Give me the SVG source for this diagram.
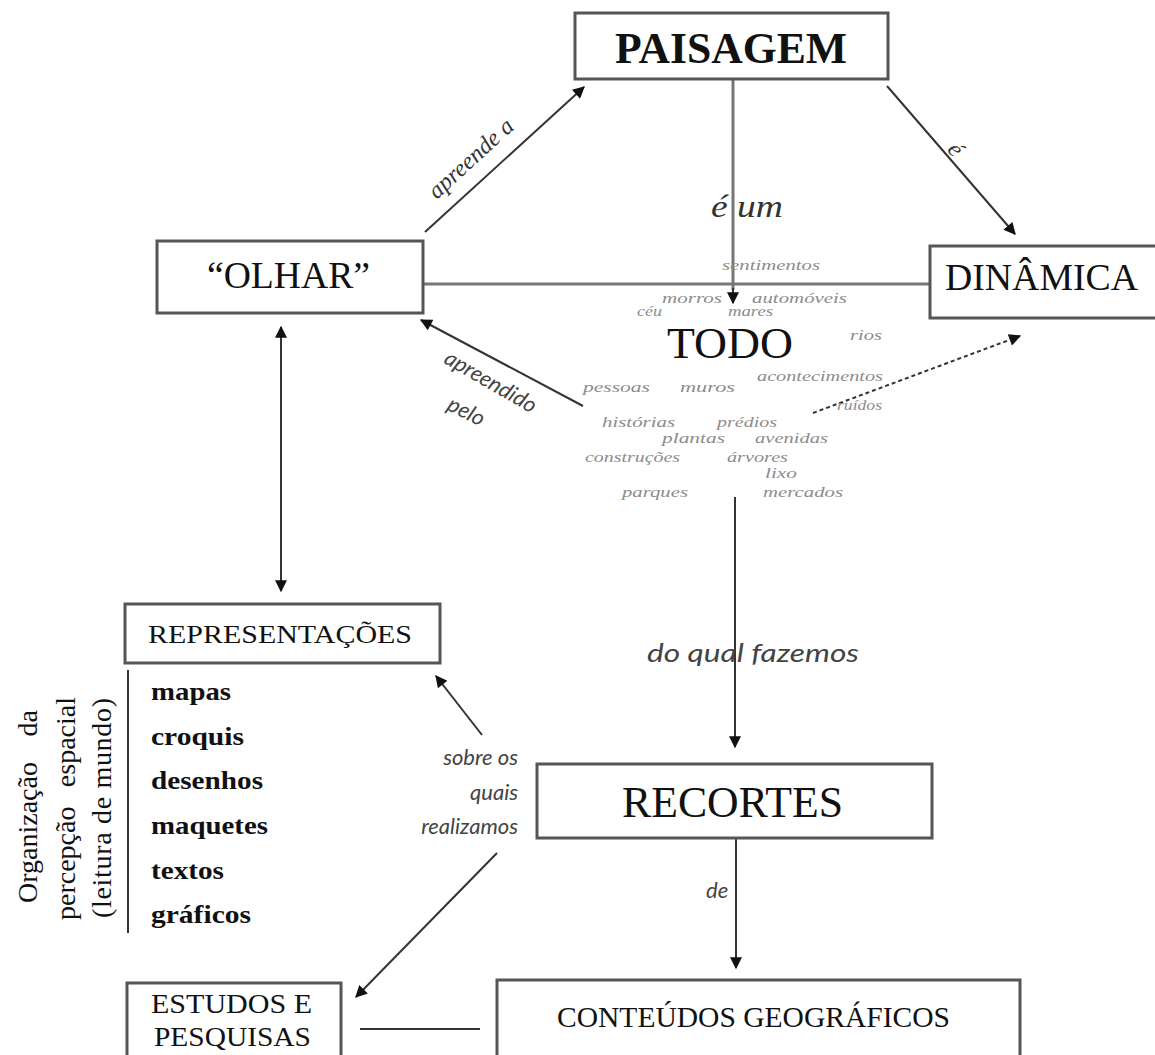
<svg xmlns="http://www.w3.org/2000/svg" width="1155" height="1055" viewBox="0 0 1155 1055">
<style>
.box{fill:#fff;stroke:#555;stroke-width:3}
.t{font-family:"Liberation Serif","Times New Roman",serif;fill:#111}
.tb{font-family:"Liberation Serif","Times New Roman",serif;font-weight:bold;fill:#111}
.lbl{font-family:"Liberation Serif","Times New Roman",serif;font-style:italic;fill:#333}
.sl{font-family:Lato,"Open Sans",sans-serif;font-style:italic;fill:#444}
.w{font-family:"Liberation Serif","Times New Roman",serif;font-style:italic;font-size:15px;fill:#8c8c8c}
.c{fill:none;stroke:#333;stroke-width:2}
.cg{fill:none;stroke:#777;stroke-width:3}
.ar{marker-end:url(#ah)}
</style>
<defs>
<marker id="ah" viewBox="0 0 10 10" refX="9" refY="5" markerWidth="15" markerHeight="12" markerUnits="userSpaceOnUse" orient="auto-start-reverse">
<path d="M0,0 L10,5 L0,10 z" fill="#111"/>
</marker>
</defs>
<rect width="1155" height="1055" fill="#fff"/>

<g id="connectors">
<line class="c ar" x1="425" y1="232" x2="584" y2="87"/>
<line class="c ar" x1="887" y1="86" x2="1015" y2="234"/>
<line class="cg" x1="733" y1="79" x2="733" y2="290"/>
<line class="c ar" x1="733" y1="288" x2="733" y2="303"/>
<line class="cg" x1="424" y1="284" x2="930" y2="284"/>
<line class="c ar" x1="583" y1="406" x2="421" y2="320"/>
<line class="c ar" x1="813" y1="413" x2="1020" y2="336" stroke-dasharray="4 3"/>
<line class="c ar" x1="281" y1="327" x2="281" y2="591" marker-start="url(#ah)"/>
<line class="c ar" x1="735" y1="497" x2="735" y2="747"/>
<line class="c ar" x1="736" y1="838" x2="736" y2="968"/>
<line class="c ar" x1="482" y1="735" x2="436" y2="676"/>
<line class="c ar" x1="497" y1="853" x2="356" y2="997"/>
<line class="c" x1="360" y1="1029" x2="480" y2="1029"/>
<line class="c" x1="128" y1="670" x2="128" y2="933" stroke="#555"/>
</g>

<g id="labels">
<text class="lbl" font-size="24" transform="translate(476,164) rotate(-42.5)" text-anchor="middle">apreende a</text>
<text class="lbl" font-size="32" x="711" y="217" textLength="72" lengthAdjust="spacingAndGlyphs">é um</text>
<text class="lbl" font-size="24" transform="translate(950,154) rotate(50)" text-anchor="middle">é</text>
<text class="sl" font-size="22" fill="#555" transform="translate(487,388) rotate(30)" text-anchor="middle">apreendido</text>
<text class="sl" font-size="22" fill="#555" transform="translate(463,418) rotate(27)" text-anchor="middle">pelo</text>
<text class="sl" font-size="25" x="647" y="662" textLength="212" lengthAdjust="spacingAndGlyphs">do qual fazemos</text>
<text class="sl" font-size="22" x="518" y="765" text-anchor="end">sobre os</text>
<text class="sl" font-size="22" x="518" y="800" text-anchor="end">quais</text>
<text class="sl" font-size="22" x="518" y="834" text-anchor="end">realizamos</text>
<text class="sl" font-size="22" x="706" y="898">de</text>
</g>

<g id="node-paisagem">
<rect class="box" x="575" y="13" width="313" height="66"/>
<text class="tb" font-size="44" x="615" y="63" textLength="232" lengthAdjust="spacingAndGlyphs">PAISAGEM</text>
</g>

<g id="node-olhar">
<rect class="box" x="157" y="241" width="266" height="72"/>
<text class="t" font-size="38" x="207" y="288" textLength="163" lengthAdjust="spacingAndGlyphs">“OLHAR”</text>
</g>

<g id="node-dinamica">
<rect class="box" x="930" y="246" width="230" height="72"/>
<text class="t" font-size="38" x="945" y="290" textLength="193" lengthAdjust="spacingAndGlyphs">DINÂMICA</text>
</g>

<g id="node-todo">
<text class="w" x="722" y="270" textLength="98" lengthAdjust="spacingAndGlyphs">sentimentos</text>
<text class="w" x="662" y="303" textLength="60" lengthAdjust="spacingAndGlyphs">morros</text>
<text class="w" x="752" y="303" textLength="95" lengthAdjust="spacingAndGlyphs">automóveis</text>
<text class="w" x="637" y="316" textLength="25" lengthAdjust="spacingAndGlyphs">céu</text>
<text class="w" x="728" y="316" textLength="45" lengthAdjust="spacingAndGlyphs">mares</text>
<text class="w" x="850" y="340" textLength="32" lengthAdjust="spacingAndGlyphs">rios</text>
<text class="t" font-size="45" x="667" y="358" textLength="126" lengthAdjust="spacingAndGlyphs" fill="#222">TODO</text>
<text class="w" x="757" y="381" textLength="126" lengthAdjust="spacingAndGlyphs">acontecimentos</text>
<text class="w" x="583" y="392" textLength="67" lengthAdjust="spacingAndGlyphs">pessoas</text>
<text class="w" x="680" y="392" textLength="55" lengthAdjust="spacingAndGlyphs">muros</text>
<text class="w" x="837" y="410" textLength="45" lengthAdjust="spacingAndGlyphs">ruídos</text>
<text class="w" x="602" y="427" textLength="73" lengthAdjust="spacingAndGlyphs">histórias</text>
<text class="w" x="717" y="427" textLength="60" lengthAdjust="spacingAndGlyphs">prédios</text>
<text class="w" x="662" y="443" textLength="63" lengthAdjust="spacingAndGlyphs">plantas</text>
<text class="w" x="755" y="443" textLength="73" lengthAdjust="spacingAndGlyphs">avenidas</text>
<text class="w" x="585" y="462" textLength="95" lengthAdjust="spacingAndGlyphs">construções</text>
<text class="w" x="727" y="462" textLength="61" lengthAdjust="spacingAndGlyphs">árvores</text>
<text class="w" x="765" y="478" textLength="32" lengthAdjust="spacingAndGlyphs">lixo</text>
<text class="w" x="622" y="497" textLength="66" lengthAdjust="spacingAndGlyphs">parques</text>
<text class="w" x="763" y="497" textLength="80" lengthAdjust="spacingAndGlyphs">mercados</text>
</g>

<g id="node-representacoes">
<rect class="box" x="125" y="604" width="315" height="59"/>
<text class="t" font-size="26" x="148" y="643" textLength="264" lengthAdjust="spacingAndGlyphs">REPRESENTAÇÕES</text>
<text class="tb" font-size="26" x="151" y="700" textLength="80" lengthAdjust="spacingAndGlyphs">mapas</text>
<text class="tb" font-size="26" x="151" y="745" textLength="93" lengthAdjust="spacingAndGlyphs">croquis</text>
<text class="tb" font-size="26" x="151" y="789" textLength="112" lengthAdjust="spacingAndGlyphs">desenhos</text>
<text class="tb" font-size="26" x="151" y="834" textLength="117" lengthAdjust="spacingAndGlyphs">maquetes</text>
<text class="tb" font-size="26" x="151" y="879" textLength="73" lengthAdjust="spacingAndGlyphs">textos</text>
<text class="tb" font-size="26" x="151" y="923" textLength="100" lengthAdjust="spacingAndGlyphs">gráficos</text>
</g>

<g id="side-label">
<g transform="translate(37,903) rotate(-90)">
<text class="t" font-size="28" x="0" y="0">Organização</text>
<text class="t" font-size="28" x="193" y="0" text-anchor="end">da</text>
</g>
<g transform="translate(75,920) rotate(-90)">
<text class="t" font-size="28" x="0" y="0">percepção</text>
<text class="t" font-size="28" x="223" y="0" text-anchor="end">espacial</text>
</g>
<g transform="translate(111,918) rotate(-90)">
<text class="t" font-size="28" x="0" y="0" textLength="220">(leitura de mundo)</text>
</g>
</g>

<g id="node-recortes">
<rect class="box" x="537" y="764" width="395" height="74"/>
<text class="t" font-size="44" x="622" y="817" textLength="221" lengthAdjust="spacingAndGlyphs">RECORTES</text>
</g>

<g id="node-conteudos">
<rect class="box" x="497" y="980" width="523" height="90"/>
<text class="t" font-size="29" x="557" y="1027" textLength="393" lengthAdjust="spacingAndGlyphs">CONTEÚDOS GEOGRÁFICOS</text>
</g>

<g id="node-estudos">
<rect class="box" x="127" y="983" width="214" height="90"/>
<text class="t" font-size="28" x="151" y="1013" textLength="161" lengthAdjust="spacingAndGlyphs">ESTUDOS E</text>
<text class="t" font-size="28" x="154" y="1046" textLength="157" lengthAdjust="spacingAndGlyphs">PESQUISAS</text>
</g>
</svg>
